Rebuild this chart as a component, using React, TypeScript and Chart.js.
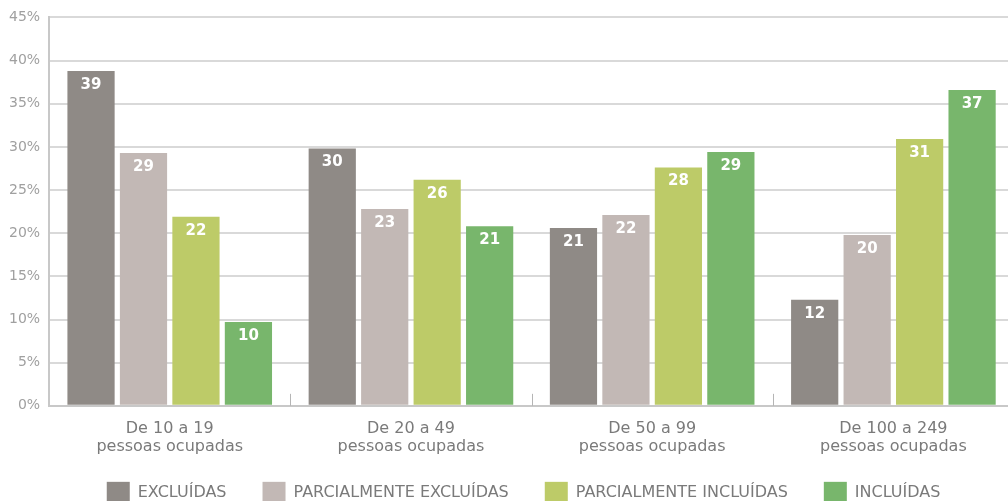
import React, { useEffect, useRef } from "react";
import { Chart, registerables } from "chart.js";

Chart.register(...registerables);

const categories: string[][] = [
  ["De 10 a 19", "pessoas ocupadas"],
  ["De 20 a 49", "pessoas ocupadas"],
  ["De 50 a 99", "pessoas ocupadas"],
  ["De 100 a 249", "pessoas ocupadas"],
];
const seriesNames = ["EXCLUÍDAS", "PARCIALMENTE EXCLUÍDAS", "PARCIALMENTE INCLUÍDAS", "INCLUÍDAS"];
const excluidas = [38.8, 29.8, 20.6, 12.3];
const parcExcluidas = [29.3, 22.8, 22.1, 19.8];
const parcIncluidas = [21.9, 26.2, 27.6, 30.9];
const incluidas = [9.7, 20.8, 29.4, 36.6];
const yTicks = [0, 5, 10, 15, 20, 25, 30, 35, 40, 45];
const colors = ["#8f8a86", "#c2b8b5", "#bdcb68", "#78b66c"];

const FONT = "'DejaVu Sans', sans-serif";

const valueLabels = {
  id: "valueLabels",
  afterDatasetsDraw(chart: any) {
    const ctx = chart.ctx;
    ctx.save();
    ctx.fillStyle = "#ffffff";
    ctx.font = `bold 15px ${FONT}`;
    ctx.textAlign = "center";
    ctx.textBaseline = "middle";
    chart.data.datasets.forEach((ds: any, i: number) => {
      const meta = chart.getDatasetMeta(i);
      meta.data.forEach((bar: any, j: number) => {
        ctx.fillText(String(Math.round(ds.data[j])), bar.x, bar.y + 14);
      });
    });
    ctx.restore();
  },
};

const groupTicks = {
  id: "groupTicks",
  afterDraw(chart: any) {
    const xs = chart.scales.x;
    const ctx = chart.ctx;
    const bottom = chart.chartArea.bottom;
    ctx.save();
    ctx.strokeStyle = "#b5b5b5";
    ctx.lineWidth = 1;
    for (let i = 1; i < categories.length; i++) {
      const x = Math.round((xs.getPixelForTick(i - 1) + xs.getPixelForTick(i)) / 2) + 0.5;
      ctx.beginPath();
      ctx.moveTo(x, bottom - 12);
      ctx.lineTo(x, bottom);
      ctx.stroke();
    }
    ctx.restore();
  },
};

const customLegend = {
  id: "customLegend",
  afterDraw(chart: any) {
    const ctx = chart.ctx;
    ctx.save();
    ctx.font = `16px ${FONT}`;
    const boxW = 23;
    const boxH = 20;
    const gap = 8;
    const itemGap = 36;
    const widths = seriesNames.map((n) => boxW + gap + ctx.measureText(n).width);
    const total = widths.reduce((a, b) => a + b, 0) + itemGap * (widths.length - 1);
    const center = (chart.chartArea.left + chart.chartArea.right) / 2 - 8;
    let x = center - total / 2;
    const top = chart.chartArea.bottom + 76;
    ctx.textAlign = "left";
    ctx.textBaseline = "middle";
    seriesNames.forEach((n, i) => {
      ctx.fillStyle = colors[i];
      ctx.fillRect(x, top, boxW, boxH);
      ctx.fillStyle = "#7a7a7a";
      ctx.fillText(n, x + boxW + gap, top + 11);
      x += widths[i] + itemGap;
    });
    ctx.restore();
  },
};

export default function App() {
  const ref = useRef<HTMLCanvasElement | null>(null);
  useEffect(() => {
    if (!ref.current) return;
    const all = [excluidas, parcExcluidas, parcIncluidas, incluidas];
    const chart = new Chart(ref.current, {
      type: "bar",
      data: {
        labels: categories,
        datasets: all.map((d, i) => ({
          label: seriesNames[i],
          data: d,
          backgroundColor: colors[i],
          borderWidth: 0,
          categoryPercentage: 0.87,
          barPercentage: 0.9,
        })),
      },
      options: {
        animation: false,
        responsive: false,
        maintainAspectRatio: false,
        layout: { padding: { top: 10, right: 0, left: 0, bottom: 38 } },
        plugins: {
          tooltip: { enabled: false },
          legend: { display: false },
        },
        scales: {
          x: {
            grid: { display: false, drawTicks: false },
            border: { color: "#c8c8c8", width: 2 },
            ticks: {
              color: "#7a7a7a",
              font: { family: FONT, size: 16, lineHeight: 1.13 },
              padding: 14,
              maxRotation: 0,
            },
          },
          y: {
            min: 0,
            max: 45,
            afterBuildTicks: (scale: any) => {
              scale.ticks = yTicks.map((v) => ({ value: v }));
            },
            grid: { color: "#d9d9d9", lineWidth: 2, drawTicks: false },
            border: { color: "#c8c8c8", width: 2 },
            ticks: {
              color: "#a0a0a0",
              font: { family: FONT, size: 14 },
              padding: 9,
              callback: (v: any) => `${v}%`,
            },
          },
        },
      },
      plugins: [valueLabels, groupTicks, customLegend],
    });
    return () => chart.destroy();
  }, []);
  return (
    <div style={{ position: "fixed", left: 0, top: 0, width: 1008, height: 501, overflow: "hidden", background: "#fff" }}>
      <canvas ref={ref} width={1014} height={508} style={{ width: 1014, height: 508, display: "block" }} />
    </div>
  );
}
